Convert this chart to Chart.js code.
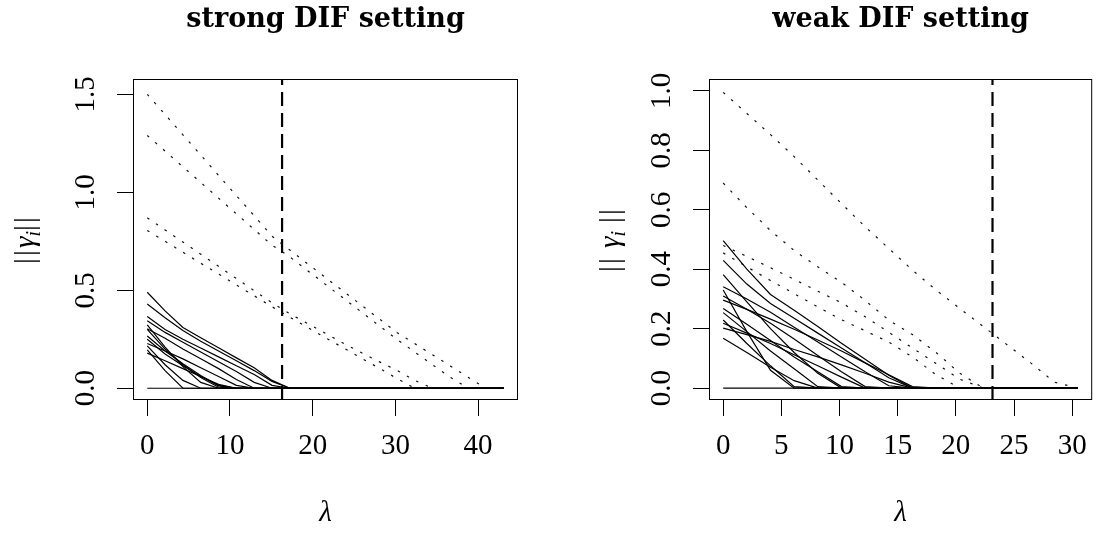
<!DOCTYPE html>
<html>
<head>
<meta charset="utf-8">
<script src="https://cdn.jsdelivr.net/npm/chart.js@4.4.1/dist/chart.umd.min.js"></script>
<style>
  html, body { margin: 0; padding: 0; background: #fff; }
  #wrap { position: relative; width: 1100px; height: 534px; }
  .panel { position: absolute; top: 0; width: 550px; height: 534px; }
  #left { left: 0; }
  #right { left: 550px; }
</style>
</head>
<body>
<div id="wrap">
  <div class="panel" id="left"><canvas id="strong" width="550" height="534"></canvas></div>
  <div class="panel" id="right"><canvas id="weak" width="550" height="534"></canvas></div>
</div>
<script>
// ---- strong DIF setting ----
const strongLambda = [0, 2.155, 4.31, 6.465, 8.62, 10.775, 12.93, 15.085, 17.24, 19.395, 21.55,
  23.705, 25.86, 28.015, 30.17, 32.325, 34.48, 36.635, 38.79, 40.945, 43.1];
const strongCut = 16.3;
const strongXTicks = [0, 10, 20, 30, 40];
const strongYTicks = [0, 0.5, 1, 1.5];

// DIF items (dotted)
const strongDif = [
  [1.500, 1.397, 1.293, 1.190, 1.086, 0.983, 0.880, 0.776, 0.705, 0.635, 0.565, 0.495, 0.425, 0.355, 0.285, 0.228, 0.171, 0.114, 0.056, 0, 0],
  [1.290, 1.210, 1.130, 1.050, 0.970, 0.890, 0.810, 0.730, 0.670, 0.600, 0.530, 0.460, 0.390, 0.320, 0.250, 0.185, 0.120, 0.056, 0, 0, 0],
  [0.870, 0.808, 0.746, 0.684, 0.622, 0.560, 0.498, 0.436, 0.380, 0.330, 0.280, 0.230, 0.182, 0.136, 0.092, 0.040, 0, 0, 0, 0, 0],
  [0.805, 0.750, 0.694, 0.638, 0.583, 0.527, 0.472, 0.416, 0.362, 0.310, 0.258, 0.206, 0.154, 0.103, 0.050, 0, 0, 0, 0, 0, 0]
];

// non-DIF items (solid)
const strongNonDif = [
  [0.490, 0.395, 0.310, 0.258, 0.207, 0.155, 0.105, 0.040, 0, 0, 0, 0, 0, 0, 0, 0, 0, 0, 0, 0, 0],
  [0.430, 0.360, 0.295, 0.240, 0.190, 0.140, 0.090, 0.035, 0, 0, 0, 0, 0, 0, 0, 0, 0, 0, 0, 0, 0],
  [0.366, 0.300, 0.250, 0.205, 0.160, 0.115, 0.070, 0.015, 0, 0, 0, 0, 0, 0, 0, 0, 0, 0, 0, 0, 0],
  [0.344, 0.285, 0.235, 0.185, 0.135, 0.085, 0.030, 0, 0, 0, 0, 0, 0, 0, 0, 0, 0, 0, 0, 0, 0],
  [0.323, 0.210, 0.110, 0.030, 0, 0, 0, 0, 0, 0, 0, 0, 0, 0, 0, 0, 0, 0, 0, 0, 0],
  [0.304, 0.255, 0.200, 0.150, 0.100, 0.045, 0, 0, 0, 0, 0, 0, 0, 0, 0, 0, 0, 0, 0, 0, 0],
  [0.267, 0.190, 0.125, 0.065, 0.012, 0, 0, 0, 0, 0, 0, 0, 0, 0, 0, 0, 0, 0, 0, 0, 0],
  [0.228, 0.190, 0.150, 0.105, 0.060, 0.015, 0, 0, 0, 0, 0, 0, 0, 0, 0, 0, 0, 0, 0, 0, 0],
  [0.216, 0.120, 0.040, 0, 0, 0, 0, 0, 0, 0, 0, 0, 0, 0, 0, 0, 0, 0, 0, 0, 0],
  [0.196, 0.090, 0, 0, 0, 0, 0, 0, 0, 0, 0, 0, 0, 0, 0, 0, 0, 0, 0, 0, 0],
  [0.179, 0.140, 0.100, 0.060, 0.020, 0, 0, 0, 0, 0, 0, 0, 0, 0, 0, 0, 0, 0, 0, 0, 0],
  [0.300, 0.200, 0.120, 0.055, 0.005, 0, 0, 0, 0, 0, 0, 0, 0, 0, 0, 0, 0, 0, 0, 0, 0],
  [0.250, 0.175, 0.115, 0.060, 0.015, 0, 0, 0, 0, 0, 0, 0, 0, 0, 0, 0, 0, 0, 0, 0, 0],
  [0, 0, 0, 0, 0, 0, 0, 0, 0, 0, 0, 0, 0, 0, 0, 0, 0, 0, 0, 0, 0]
];

// ---- weak DIF setting ----
const weakLambda = [0, 2.033, 4.067, 6.1, 8.133, 10.167, 12.2, 14.233, 16.267, 18.3, 20.333,
  22.367, 24.4, 26.433, 28.467, 30.5];
const weakCut = 23.15;
const weakXTicks = [0, 5, 10, 15, 20, 25, 30];
const weakYTicks = [0, 0.2, 0.4, 0.6, 0.8, 1];

const weakDif = [
  [0.995, 0.924, 0.853, 0.779, 0.700, 0.621, 0.543, 0.470, 0.397, 0.330, 0.268, 0.207, 0.146, 0.085, 0.020, 0],
  [0.690, 0.607, 0.530, 0.463, 0.408, 0.356, 0.295, 0.229, 0.180, 0.120, 0.050, 0, 0, 0, 0, 0],
  [0.480, 0.443, 0.405, 0.366, 0.326, 0.287, 0.240, 0.188, 0.135, 0.083, 0.030, 0, 0, 0, 0, 0],
  [0.455, 0.408, 0.362, 0.318, 0.273, 0.230, 0.193, 0.155, 0.105, 0.045, 0, 0, 0, 0, 0, 0]
];

const weakNonDif = [
  [0.496, 0.400, 0.315, 0.262, 0.207, 0.151, 0.097, 0.043, 0, 0, 0, 0, 0, 0, 0, 0],
  [0.430, 0.350, 0.285, 0.235, 0.185, 0.135, 0.085, 0.035, 0, 0, 0, 0, 0, 0, 0, 0],
  [0.382, 0.290, 0.200, 0.120, 0.050, 0, 0, 0, 0, 0, 0, 0, 0, 0, 0, 0],
  [0.341, 0.300, 0.255, 0.205, 0.155, 0.105, 0.055, 0.008, 0, 0, 0, 0, 0, 0, 0, 0],
  [0.330, 0.190, 0.060, 0, 0, 0, 0, 0, 0, 0, 0, 0, 0, 0, 0, 0],
  [0.310, 0.265, 0.218, 0.165, 0.110, 0.055, 0.005, 0, 0, 0, 0, 0, 0, 0, 0, 0],
  [0.296, 0.265, 0.232, 0.198, 0.162, 0.125, 0.085, 0.045, 0.005, 0, 0, 0, 0, 0, 0, 0],
  [0.268, 0.215, 0.160, 0.105, 0.055, 0.005, 0, 0, 0, 0, 0, 0, 0, 0, 0, 0],
  [0.254, 0.190, 0.125, 0.065, 0.005, 0, 0, 0, 0, 0, 0, 0, 0, 0, 0, 0],
  [0.229, 0.150, 0.075, 0.005, 0, 0, 0, 0, 0, 0, 0, 0, 0, 0, 0, 0],
  [0.218, 0.185, 0.150, 0.112, 0.075, 0.037, 0, 0, 0, 0, 0, 0, 0, 0, 0, 0],
  [0.202, 0.180, 0.157, 0.130, 0.105, 0.078, 0.050, 0.020, 0, 0, 0, 0, 0, 0, 0, 0],
  [0.168, 0.120, 0.070, 0.025, 0, 0, 0, 0, 0, 0, 0, 0, 0, 0, 0, 0],
  [0, 0, 0, 0, 0, 0, 0, 0, 0, 0, 0, 0, 0, 0, 0, 0]
];

const SERIF = '"Liberation Serif", "DejaVu Serif", serif';

const pathData = (lambda, vals) => vals.map((v, i) => ({ x: lambda[i], y: v }));

// ||gamma_i|| written bottom-to-top, centred on (x, y); gap pads the inner side of the bars
function drawNormLabel(ctx, x, y, gap) {
  // [text, font, baseline shift, advance, space before]
  const parts = [
    ['|', `29px ${SERIF}`, 0, 8, 0],
    ['|', `29px ${SERIF}`, 0, 8, 0],
    ['γ', `italic 29px ${SERIF}`, 0, 0, gap],
    ['i', `italic 20px ${SERIF}`, 6, 0, 0],
    ['|', `29px ${SERIF}`, 0, 8, gap],
    ['|', `29px ${SERIF}`, 0, 8, 0]
  ];
  let w = 0;
  parts.forEach(p => { ctx.font = p[1]; w += p[4] + Math.max(p[3], ctx.measureText(p[0]).width); });
  ctx.save();
  ctx.translate(x, y);
  ctx.rotate(-Math.PI / 2);
  ctx.textAlign = 'left';
  ctx.textBaseline = 'alphabetic';
  let cx = -w / 2;
  parts.forEach(p => {
    ctx.font = p[1];
    cx += p[4];
    ctx.fillText(p[0], cx, p[2]);
    cx += Math.max(p[3], ctx.measureText(p[0]).width);
  });
  ctx.restore();
}

const panelText = {
  id: 'panelText',
  afterDraw(chart, args, opts) {
    const { ctx, chartArea: a, scales } = chart;
    ctx.save();
    ctx.fillStyle = '#000';
    ctx.strokeStyle = '#000';
    ctx.lineWidth = 1;
    ctx.strokeRect(a.left + 0.5, a.top + 0.5, a.right - a.left - 1, a.bottom - a.top - 1);

    // title
    ctx.font = 'bold 27px "DejaVu Serif", serif';
    ctx.textAlign = 'center';
    ctx.textBaseline = 'alphabetic';
    ctx.fillText(opts.title, (a.left + a.right) / 2, 27);

    // y tick labels, rotated as in base graphics
    ctx.font = `29px ${SERIF}`;
    ctx.textBaseline = 'middle';
    opts.yTicks.forEach(v => {
      const y = scales.y.getPixelForValue(v);
      ctx.save();
      ctx.translate(a.left - 47, y);
      ctx.rotate(-Math.PI / 2);
      ctx.fillText(v.toFixed(1), 0, 0);
      ctx.restore();
    });

    drawNormLabel(ctx, a.left - opts.labelOffset, (a.top + a.bottom) / 2, opts.labelGap);
    ctx.restore();
  }
};

function makePanel(id, p) {
  const datasets = [];
  p.nonDif.forEach(vals => datasets.push({
    data: pathData(p.lambda, vals), borderColor: '#000', borderWidth: 1.2
  }));
  p.dif.forEach(vals => datasets.push({
    data: pathData(p.lambda, vals), borderColor: '#111', borderWidth: 1.2, borderDash: [2.5, 8]
  }));
  datasets.push({
    data: [{ x: p.cut, y: p.yMin }, { x: p.cut, y: p.yMax }],
    borderColor: '#000', borderWidth: 2.2, borderDash: [14, 7]
  });

  const tickFont = { family: SERIF, size: 29 };
  new Chart(document.getElementById(id), {
    type: 'line',
    data: { datasets },
    options: {
      responsive: false,
      animation: false,
      elements: { point: { radius: 0 }, line: { tension: 0 } },
      layout: { padding: { top: 79, right: p.padRight, bottom: 0, left: 0 } },
      plugins: {
        legend: { display: false },
        tooltip: { enabled: false },
        panelText: { title: p.title, yTicks: p.yTicks, labelOffset: p.labelOffset, labelGap: p.labelGap }
      },
      scales: {
        x: {
          type: 'linear', min: p.xMin, max: p.xMax,
          afterBuildTicks: s => { s.ticks = p.xTicks.map(v => ({ value: v })); },
          afterFit: s => { s.height = 134; },
          border: { display: false },
          grid: { drawOnChartArea: false, tickLength: 16, color: '#000', lineWidth: 1 },
          ticks: { font: tickFont, color: '#000', padding: 13, maxRotation: 0 },
          title: {
            display: true, text: 'λ', color: '#000',
            font: { family: SERIF, size: 29, style: 'italic' },
            padding: { top: 0, bottom: 3 }
          }
        },
        y: {
          type: 'linear', min: p.yMin, max: p.yMax,
          afterBuildTicks: s => { s.ticks = p.yTicks.map(v => ({ value: v })); },
          afterFit: s => { s.width = p.axisWidth; },
          border: { display: false },
          grid: { drawOnChartArea: false, tickLength: 16, color: '#000', lineWidth: 1 },
          ticks: { display: false }
        }
      }
    },
    plugins: [panelText]
  });
}

makePanel('strong', {
  title: 'strong DIF setting',
  lambda: strongLambda, dif: strongDif, nonDif: strongNonDif, cut: strongCut,
  xTicks: strongXTicks, yTicks: strongYTicks,
  xMin: -1.724, xMax: 44.824, yMin: -0.06, yMax: 1.578,
  axisWidth: 133, padRight: 32, labelOffset: 99, labelGap: 0
});

makePanel('weak', {
  title: 'weak DIF setting',
  lambda: weakLambda, dif: weakDif, nonDif: weakNonDif, cut: weakCut,
  xTicks: weakXTicks, yTicks: weakYTicks,
  xMin: -1.22, xMax: 31.72, yMin: -0.04, yMax: 1.04,
  axisWidth: 159, padRight: 6, labelOffset: 90, labelGap: 8
});
</script>
</body>
</html>
